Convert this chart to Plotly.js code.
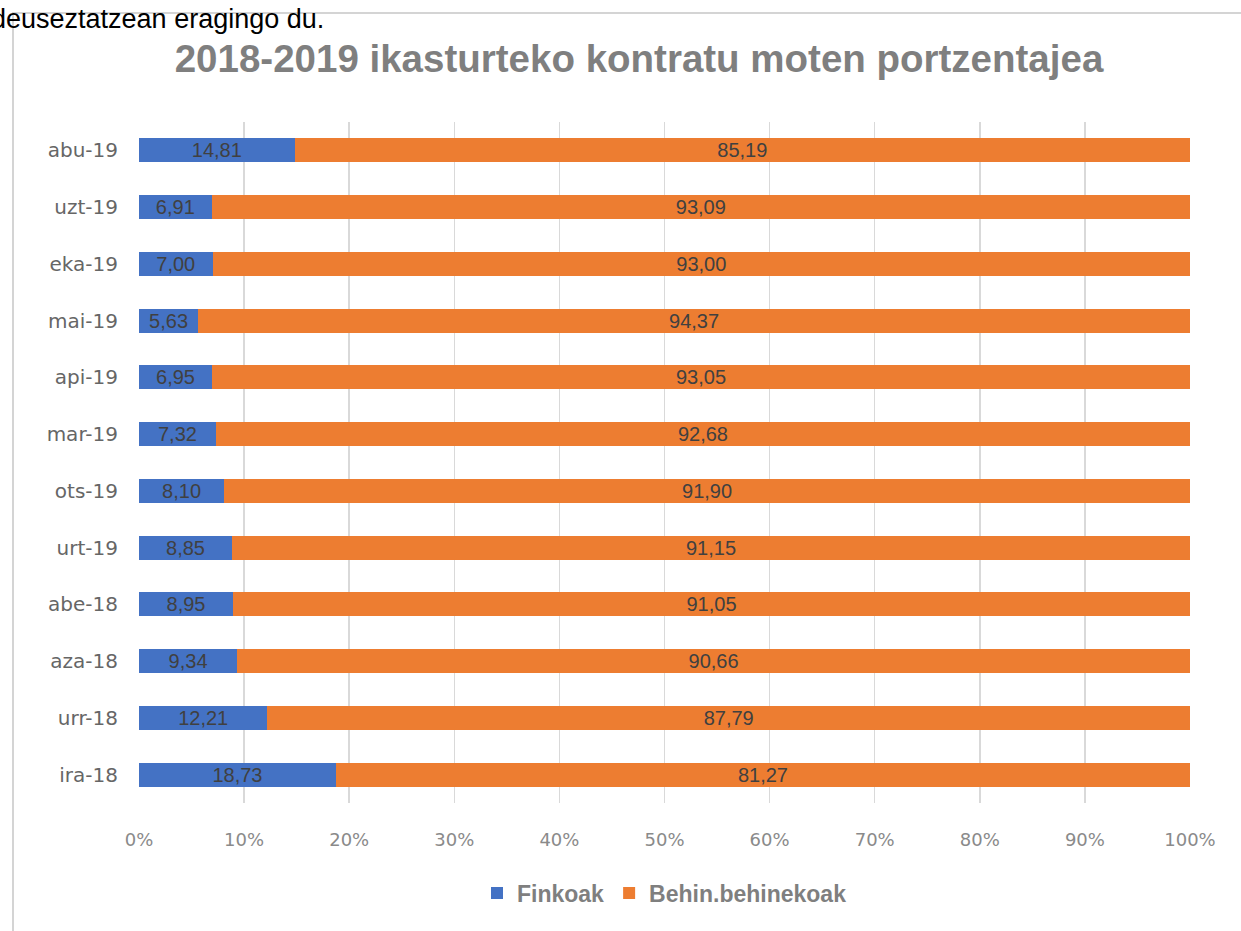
<!DOCTYPE html>
<html>
<head>
<meta charset="utf-8">
<script src="https://cdn.plot.ly/plotly-3.0.1.min.js"></script>
<style>
  html, body { margin: 0; padding: 0; background: #ffffff; overflow: hidden; }
  #chart { width: 1241px; height: 931px; }
  #frame { position: absolute; left: 12px; top: 12px; width: 1240px; height: 930px;
           border-top: 2px solid #d4d4d4; border-left: 2px solid #d4d4d4; pointer-events: none; }
  #doctext { position: absolute; left: -9px; top: 6px; white-space: nowrap; line-height: 27px;
             font-family: "Liberation Sans", Arial, sans-serif; font-size: 27px; color: #000; }
</style>
</head>
<body>
<div id="chart"></div>
<div id="frame"></div>
<div id="doctext">deuseztatzean eragingo du.</div>
<script>
// Categories (bottom to top)
const months = ["ira-18", "urr-18", "aza-18", "abe-18", "urt-19", "ots-19",
                "mar-19", "api-19", "mai-19", "eka-19", "uzt-19", "abu-19"];
// Series values (%)
const finkoak = [18.73, 12.21, 9.34, 8.95, 8.85, 8.10, 7.32, 6.95, 5.63, 7.00, 6.91, 14.81];
const behinBehinekoak = [81.27, 87.79, 90.66, 91.05, 91.15, 91.90, 92.68, 93.05, 94.37, 93.00, 93.09, 85.19];
// Axis ticks
const xTicks = [0, 10, 20, 30, 40, 50, 60, 70, 80, 90, 100];
const xTickLabels = ["0%", "10%", "20%", "30%", "40%", "50%", "60%", "70%", "80%", "90%", "100%"];

const labelFont = { family: "Liberation Sans, Arial, sans-serif", size: 20, color: "#404040" };

const traces = [
  {
    type: "bar", orientation: "h", name: "Finkoak",
    y: months, x: finkoak,
    marker: { color: "#4472C4" },
    texttemplate: "%{x:.2f}", textposition: "inside", insidetextanchor: "middle",
    constraintext: "none", textfont: labelFont, hoverinfo: "x+y"
  },
  {
    type: "bar", orientation: "h", name: "Behin.behinekoak",
    y: months, x: behinBehinekoak,
    marker: { color: "#ED7D31" },
    texttemplate: "%{x:.2f}", textposition: "inside", insidetextanchor: "middle",
    constraintext: "none", textfont: labelFont, hoverinfo: "x+y"
  }
];

const layout = {
  width: 1241, height: 931,
  paper_bgcolor: "rgba(0,0,0,0)", plot_bgcolor: "rgba(0,0,0,0)",
  separators: ",.",
  barmode: "stack",
  bargap: 0.58,
  margin: { l: 139, r: 51, t: 122, b: 128 },
  title: {
    text: "2018-2019 ikasturteko kontratu moten portzentajea",
    font: { family: "Liberation Sans, Arial, sans-serif", size: 38.5, color: "#7f7f7f", weight: "bold" },
    xref: "container", yref: "container",
    x: 639 / 1241, xanchor: "center",
    y: 1 - 59 / 931, yanchor: "middle"
  },
  xaxis: {
    range: [0, 100],
    tickvals: xTicks, ticktext: xTickLabels,
    showgrid: true, gridcolor: "#d9d9d9", gridwidth: 1.5,
    zeroline: false, showline: false, ticks: "",
    ticklabelstandoff: 24,
    tickfont: { family: "DejaVu Sans, sans-serif", size: 18, color: "#8a8a8a" },
    fixedrange: true
  },
  yaxis: {
    type: "category",
    categoryorder: "array", categoryarray: months,
    range: [-0.5, 11.5],
    showgrid: false, zeroline: false, showline: false, ticks: "",
    ticklabelstandoff: 20,
    tickfont: { family: "DejaVu Sans, sans-serif", size: 20, color: "#666666" },
    fixedrange: true
  },
  showlegend: true,
  legend: {
    orientation: "h",
    x: 0.5, xanchor: "center",
    y: -(893 - 803) / 681, yanchor: "middle",
    font: { family: "Liberation Sans, Arial, sans-serif", size: 23, color: "#7f7f7f", weight: "bold" },
    traceorder: "normal"
  }
};

Plotly.newPlot("chart", traces, layout, { displayModeBar: false, staticPlot: true });
</script>
</body>
</html>
